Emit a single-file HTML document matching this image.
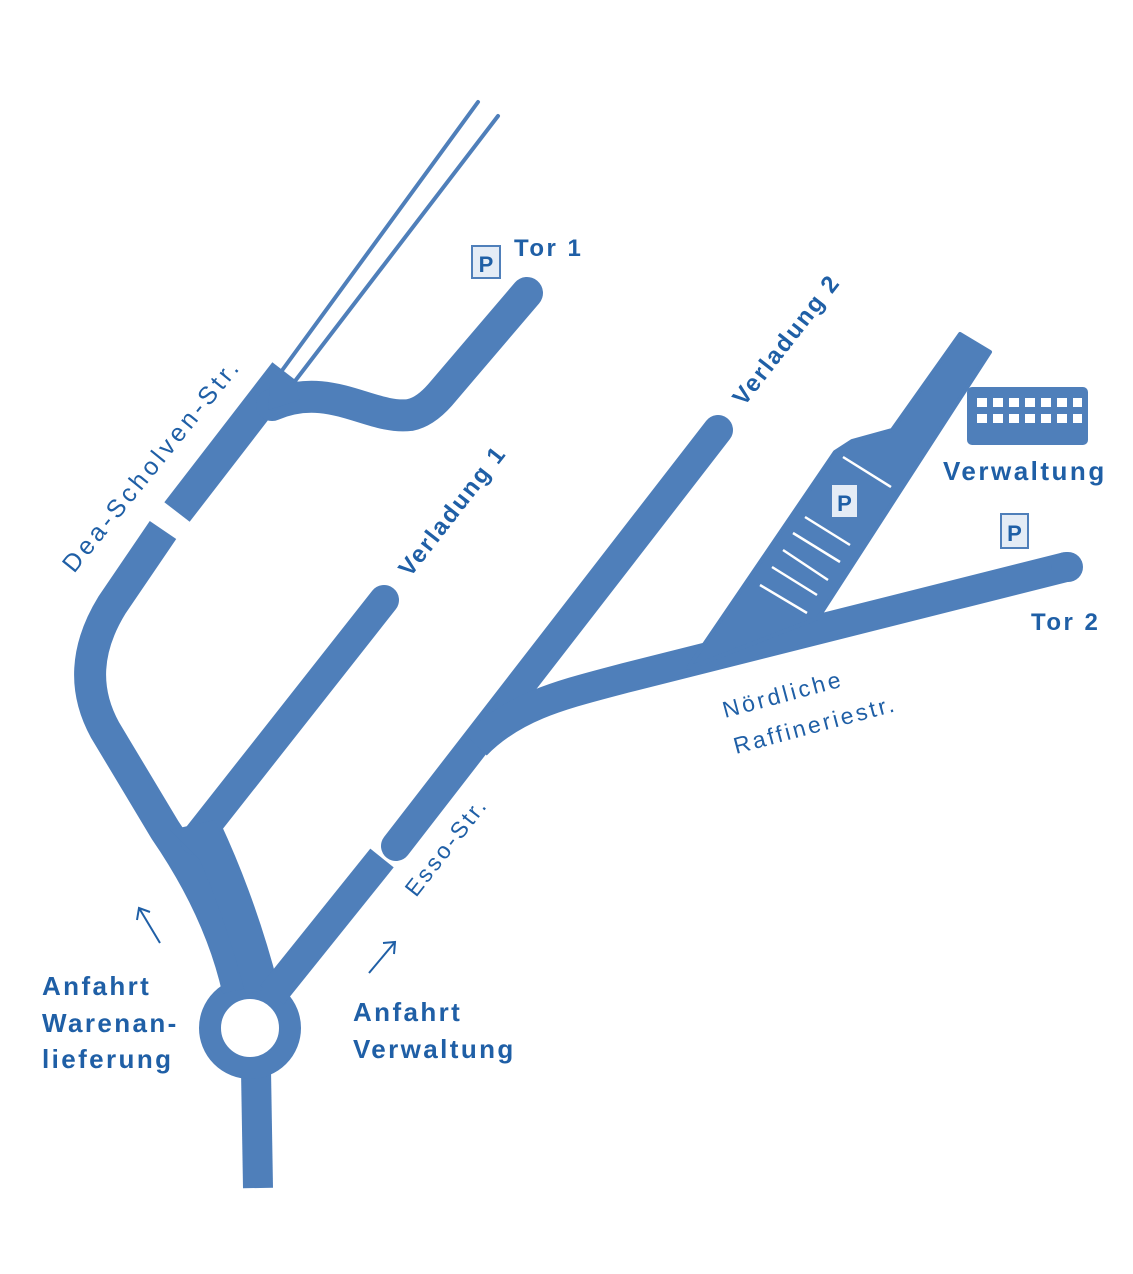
<!DOCTYPE html>
<html><head><meta charset="utf-8"><style>
html,body{margin:0;padding:0;background:#fff;}
svg{display:block;}
text{font-family:"Liberation Sans",sans-serif;fill:#1f5fa6;}
.b{font-weight:bold;}
</style></head><body>
<svg width="1133" height="1274" viewBox="0 0 1133 1274" xmlns="http://www.w3.org/2000/svg">
<g fill="none" stroke="#4f7fba" stroke-linecap="round" stroke-linejoin="round">
  <line x1="278" y1="376" x2="478" y2="102" stroke-width="4"/>
  <line x1="292" y1="385" x2="498" y2="116" stroke-width="4"/>
  <path d="M256 1070 L258 1188" stroke-width="30" stroke-linecap="butt"/>
  <circle cx="250" cy="1028" r="40" stroke-width="22"/>
  <path d="M238 990 Q220 910 165 830 L105 730 Q72 670 112 605 L163 530" stroke-width="32" stroke-linecap="butt"/>
  <path d="M262 990 Q240 905 205 830" stroke-width="34" stroke-linecap="butt"/>
  <path d="M195 840 L384 600" stroke-width="30"/>
  <path d="M177 512 L285 372" stroke-width="32" stroke-linecap="butt"/>
  <path d="M272 405 C 330 380 370 420 410 415 Q425 412 440 395 L527 293" stroke-width="32"/>
  <path d="M272 995 L382 858" stroke-width="30" stroke-linecap="butt"/>
  <path d="M396 846 L718 430" stroke-width="30"/>
  <path d="M476 745 C 515 705 565 694 625 678 L1066 567" stroke-width="30" stroke-linecap="butt"/>
</g>
<path d="M1066 567 L1068 567" stroke="#4f7fba" stroke-width="30" stroke-linecap="round"/>
<polygon points="170,830 215,820 230,860 200,860" fill="#4f7fba"/>
<polygon points="270,383 295,383 300,400 268,410" fill="#4f7fba"/>
<polygon points="688,668 835,452 852,441 892,430 960,334 990,352 818,618 705,662" fill="#4f7fba" stroke="#4f7fba" stroke-width="4" stroke-linejoin="round"/>
<g stroke="#fff" stroke-width="2.5">
  <line x1="843" y1="457" x2="891" y2="487"/>
  <line x1="805" y1="517" x2="850" y2="545"/>
  <line x1="793" y1="533" x2="840" y2="562"/>
  <line x1="783" y1="550" x2="828" y2="580"/>
  <line x1="772" y1="567" x2="817" y2="595"/>
  <line x1="760" y1="585" x2="807" y2="613"/>
</g>
<g>
  <rect x="831" y="484" width="27" height="34" fill="#e4ecf6" stroke="#4f7fba" stroke-width="2"/>
  <text x="844.5" y="511" text-anchor="middle" class="b" font-size="22">P</text>
  <rect x="472" y="246" width="28" height="32" fill="#e4ecf6" stroke="#4f7fba" stroke-width="2"/>
  <text x="486" y="272" text-anchor="middle" class="b" font-size="22">P</text>
  <rect x="1001" y="514" width="27" height="34" fill="#e4ecf6" stroke="#4f7fba" stroke-width="2"/>
  <text x="1014.5" y="541" text-anchor="middle" class="b" font-size="22">P</text>
</g>
<rect x="967" y="387" width="121" height="58" rx="5" fill="#4f7fba"/>
<g fill="#fff">
  <rect x="977" y="398" width="10" height="9"/><rect x="993" y="398" width="10" height="9"/><rect x="1009" y="398" width="10" height="9"/><rect x="1025" y="398" width="10" height="9"/><rect x="1041" y="398" width="10" height="9"/><rect x="1057" y="398" width="10" height="9"/><rect x="1073" y="398" width="9" height="9"/>
  <rect x="977" y="414" width="10" height="9"/><rect x="993" y="414" width="10" height="9"/><rect x="1009" y="414" width="10" height="9"/><rect x="1025" y="414" width="10" height="9"/><rect x="1041" y="414" width="10" height="9"/><rect x="1057" y="414" width="10" height="9"/><rect x="1073" y="414" width="9" height="9"/>
</g>
<g stroke="#1f5fa6" stroke-width="2" fill="none">
  <line x1="160" y1="943" x2="139" y2="908"/><polyline points="137,920 139,908 150,912"/>
  <line x1="369" y1="973" x2="395" y2="942"/><polyline points="383,943 395,942 394,954"/>
</g>
<text x="514" y="256" class="b" font-size="24" letter-spacing="2.5">Tor 1</text>
<text x="943" y="480" class="b" font-size="26" letter-spacing="2.5">Verwaltung</text>
<text x="1031" y="630" class="b" font-size="24" letter-spacing="2.5">Tor 2</text>
<g class="b" font-size="26" letter-spacing="2.4">
<text x="42" y="995" class="b">Anfahrt</text>
<text x="42" y="1032" class="b">Warenan-</text>
<text x="42" y="1068" class="b">lieferung</text>
<text x="353" y="1021" class="b">Anfahrt</text>
<text x="353" y="1058" class="b">Verwaltung</text>
</g>
<text transform="translate(725,718) rotate(-15)" font-size="23" letter-spacing="3">Nördliche</text>
<text transform="translate(736,754) rotate(-15)" font-size="23" letter-spacing="2.8">Raffineriestr.</text>
<text transform="translate(74,574) rotate(-51)" font-size="25" letter-spacing="3.8">Dea-Scholven-Str.</text>
<text transform="translate(410,578) rotate(-52)" class="b" font-size="24" letter-spacing="2">Verladung 1</text>
<text transform="translate(744,407) rotate(-52)" class="b" font-size="24" letter-spacing="2">Verladung 2</text>
<text transform="translate(416,898) rotate(-52)" font-size="23" letter-spacing="2.8">Esso-Str.</text>
</svg>
</body></html>
